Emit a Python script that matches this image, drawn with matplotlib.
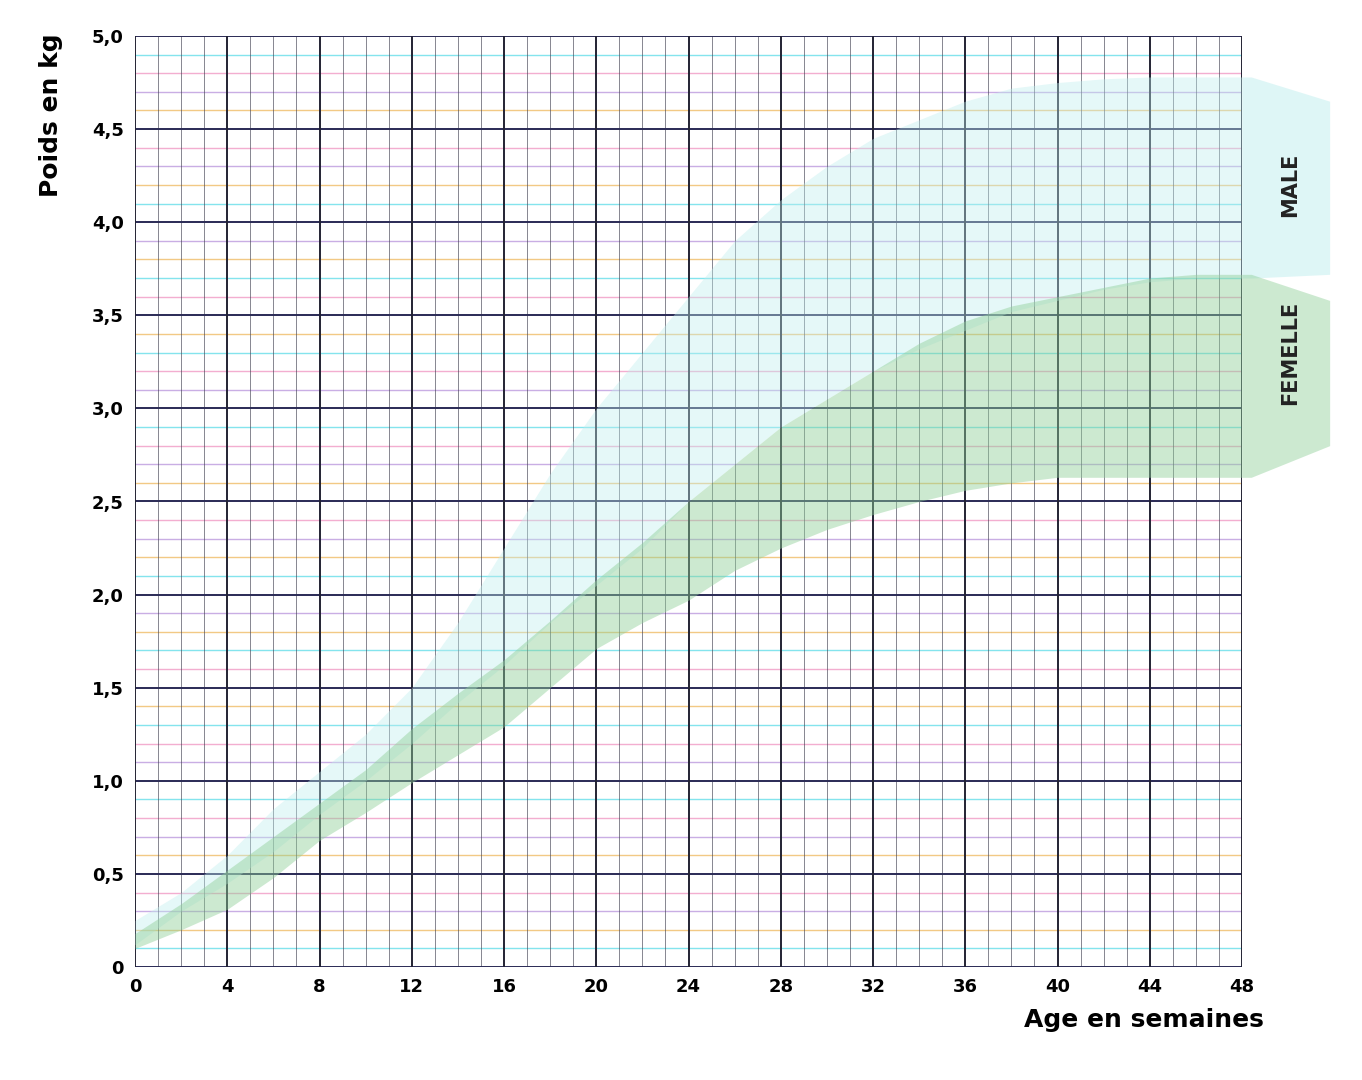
import matplotlib
matplotlib.use("Agg")
import matplotlib.pyplot as plt
import numpy as np

weeks = [0, 2, 4, 6, 8, 10, 12, 14, 16, 18, 20, 22, 24, 26, 28, 30, 32, 34, 36, 38, 40, 42, 44, 46, 48]
male_low = [0.12, 0.30, 0.45, 0.62, 0.82, 1.00, 1.20, 1.42, 1.62, 1.85, 2.05, 2.25, 2.50, 2.70, 2.90, 3.05, 3.20, 3.32, 3.42, 3.52, 3.58, 3.64, 3.68, 3.70, 3.70]
male_high = [0.25, 0.40, 0.60, 0.85, 1.05, 1.25, 1.50, 1.85, 2.25, 2.65, 3.00, 3.30, 3.60, 3.90, 4.12, 4.30, 4.45, 4.55, 4.65, 4.72, 4.75, 4.77, 4.78, 4.78, 4.78]
female_low = [0.10, 0.20, 0.31, 0.48, 0.68, 0.83, 0.99, 1.14, 1.29, 1.50, 1.71, 1.85, 1.97, 2.13, 2.25, 2.35, 2.43, 2.50, 2.56, 2.60, 2.63, 2.63, 2.63, 2.63, 2.63]
female_high = [0.18, 0.34, 0.52, 0.70, 0.88, 1.06, 1.28, 1.47, 1.65, 1.86, 2.08, 2.28, 2.50, 2.70, 2.90, 3.05, 3.20, 3.35, 3.47, 3.55, 3.60, 3.65, 3.70, 3.72, 3.72]
x_ticks = [0, 4, 8, 12, 16, 20, 24, 28, 32, 36, 40, 44, 48]
y_ticks = [0, 0.5, 1.0, 1.5, 2.0, 2.5, 3.0, 3.5, 4.0, 4.5, 5.0]
y_labels = ["0", "0,5", "1,0", "1,5", "2,0", "2,5", "3,0", "3,5", "4,0", "4,5", "5,0"]

fig = plt.figure(figsize=(13.62, 10.8), dpi=100)
ax = fig.add_axes([135/1362, 1-967/1080, (1242-135)/1362, (967-36)/1080])
ax.set_xlim(0, 48); ax.set_ylim(0, 5)

minor_colors = ["#f2a0c8", "#6fe0ea", "#f0c070", "#c0a0e0"]
for i in range(1, 50):
    if i % 5 == 0:
        continue
    ax.axhline(i * 0.1, color=minor_colors[i % 4], lw=1.0, alpha=0.85, zorder=1)
for i in range(0, 49):
    if i % 4:
        ax.axvline(i, color="#444455", lw=0.7, alpha=0.65, zorder=1)
for y in y_ticks:
    ax.axhline(y, color="#2a2a55", lw=1.4, zorder=2)
for x in x_ticks:
    ax.axvline(x, color="#222233", lw=1.4, zorder=2)

ax.fill_between(weeks, male_low, male_high, color="#bfeeee", alpha=0.4, lw=0, zorder=3)
ax.fill_between(weeks, female_low, female_high, color="#8fcf98", alpha=0.45, lw=0, zorder=4)

# label tabs outside the plot
ax.fill_between([48, 48.4, 51.8], [3.70, 3.70, 3.72], [4.78, 4.78, 4.65], color="#bfeeee", alpha=0.5, lw=0, clip_on=False)
ax.fill_between([48, 48.4, 51.8], [2.63, 2.63, 2.80], [3.72, 3.72, 3.58], color="#8fcf98", alpha=0.45, lw=0, clip_on=False)
ax.text(50.1, 4.2, "MALE", rotation=90, ha="center", va="center", fontsize=15, fontweight="bold", color="#222222", clip_on=False)
ax.text(50.1, 3.3, "FEMELLE", rotation=90, ha="center", va="center", fontsize=15, fontweight="bold", color="#222222", clip_on=False)

for s in ax.spines.values():
    s.set_visible(False)
ax.set_xticks(x_ticks)
ax.set_xticklabels([str(t) for t in x_ticks], fontsize=13, fontweight="bold")
ax.set_yticks(y_ticks)
ax.set_yticklabels(y_labels, fontsize=13, fontweight="bold")
ax.tick_params(length=0, pad=8)
ax.set_ylabel("Poids en kg", fontsize=18, fontweight="bold")
ax.yaxis.set_label_coords(-0.065, 0.915)
ax.text(1.02, -0.057, "Age en semaines", transform=ax.transAxes, ha="right", va="center", fontsize=18, fontweight="bold")
fig.savefig("out.png", dpi=100, facecolor="white")
